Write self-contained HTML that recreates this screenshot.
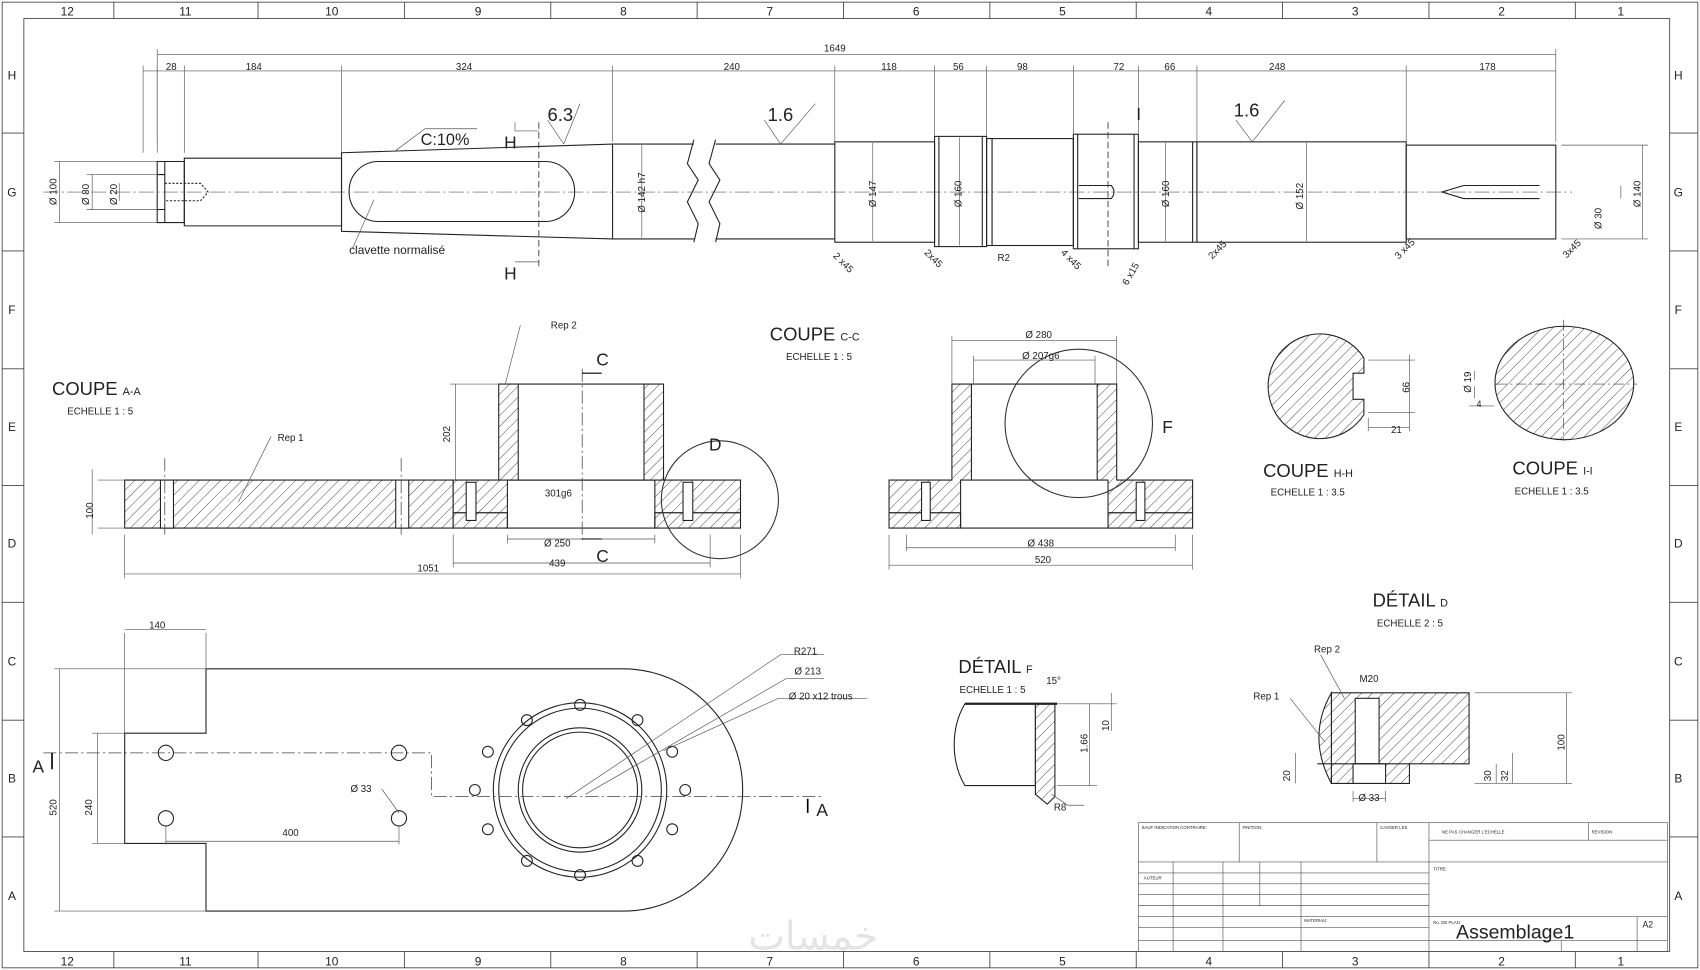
<!DOCTYPE html>
<html><head><meta charset="utf-8"><style>
html,body{margin:0;padding:0;background:#fff}
svg{display:block}
text{font-family:"Liberation Sans",sans-serif;fill:#222}
</style></head><body>
<svg width="1700" height="970" viewBox="0 0 1568 889" preserveAspectRatio="none" xmlns="http://www.w3.org/2000/svg">
<defs>
<pattern id="h" width="7" height="7" patternUnits="userSpaceOnUse" patternTransform="rotate(45)">
<rect width="7" height="7" fill="#fff"/><line x1="0" y1="0" x2="0" y2="7" stroke="#333" stroke-width="0.8"/></pattern>
</defs>
<rect width="1568" height="889" fill="#fff"/>
<g fill="none" stroke="#444" stroke-width="0.8">
<rect x="2" y="2" width="1564" height="885"/>
<rect x="22" y="17" width="1518" height="855"/>
<path d="M105 2V17M238 2V17M373 2V17M508 2V17M643 2V17M778 2V17M913 2V17M1048 2V17M1183 2V17M1318 2V17M1453 2V17
M105 872V887M238 872V887M373 872V887M508 872V887M643 872V887M778 872V887M913 872V887M1048 872V887M1183 872V887M1318 872V887M1453 872V887
M2 122H22M2 230H22M2 338H22M2 445H22M2 552H22M2 660H22M2 767H22
M1540 122H1566M1540 230H1566M1540 338H1566M1540 445H1566M1540 552H1566M1540 660H1566M1540 767H1566"/>
</g>
<g font-size="11" text-anchor="middle">
<text x="62" y="14">12</text><text x="171" y="14">11</text><text x="306" y="14">10</text><text x="441" y="14">9</text><text x="575" y="14">8</text><text x="710" y="14">7</text><text x="845" y="14">6</text><text x="980" y="14">5</text><text x="1115" y="14">4</text><text x="1250" y="14">3</text><text x="1385" y="14">2</text><text x="1495" y="14">1</text>
<text x="62" y="885">12</text><text x="171" y="885">11</text><text x="306" y="885">10</text><text x="441" y="885">9</text><text x="575" y="885">8</text><text x="710" y="885">7</text><text x="845" y="885">6</text><text x="980" y="885">5</text><text x="1115" y="885">4</text><text x="1250" y="885">3</text><text x="1385" y="885">2</text><text x="1495" y="885">1</text>
<text x="11" y="73">H</text><text x="11" y="180">G</text><text x="11" y="288">F</text><text x="11" y="395">E</text><text x="11" y="502">D</text><text x="11" y="610">C</text><text x="11" y="717">B</text><text x="11" y="825">A</text>
<text x="1548" y="73">H</text><text x="1548" y="180">G</text><text x="1548" y="288">F</text><text x="1548" y="395">E</text><text x="1548" y="502">D</text><text x="1548" y="610">C</text><text x="1548" y="717">B</text><text x="1548" y="825">A</text>
</g>

<!-- SHAFT -->
<g fill="none" stroke="#222" stroke-width="1">
<path d="M145 148H170V204H145Z M152 148V204 M145 160H152M145 192H152"/>
<path d="M152 168H185L192 176L185 184H152" stroke-dasharray="2 1.5"/>
<path d="M170 145H315V207H170Z"/>
<path d="M315 140L565 132V219L315 212Z"/>
<rect x="322" y="148" width="208" height="55" rx="27"/>
<path d="M565 132H640M565 219H640M660 132H770M660 219H770"/>
<path d="M640 128L634 150L644 165L634 185L644 205L640 222M660 128L654 150L664 165L654 185L664 205L660 222"/>
<rect x="770" y="130" width="92" height="92"/>
<rect x="862" y="125" width="48" height="101"/>
<path d="M866 125V226M906 125V226"/>
<path d="M910 127H915V225H910Z"/>
<rect x="915" y="127" width="75" height="98"/>
<rect x="990" y="123" width="60" height="105"/>
<path d="M994 123V228M1046 123V228"/>
<path d="M995 170H1025Q1030 176 1025 182H995"/>
<rect x="1050" y="130" width="54" height="92"/>
<path d="M1100 130V222"/>
<rect x="1104" y="130" width="193" height="92"/>
<rect x="1297" y="133" width="138" height="86"/>
<path d="M1350 170H1420M1350 182H1420M1350 170L1330 176L1350 182" />
</g>
<path d="M40 176H1450" stroke="#555" stroke-width="0.6" stroke-dasharray="14 3 2 3"/>
<path d="M497 112V245" stroke="#333" stroke-dasharray="6 3" stroke-width="0.8"/>
<path d="M1022 112V245" stroke="#333" stroke-dasharray="6 3" stroke-width="0.8"/>
<g stroke="#555" stroke-width="0.6" fill="none">
<path d="M145 50H1435M145 45V130M1435 45V130"/>
<path d="M132 65H1435M132 60V140M145 60V140M170 60V140M315 60V140M565 60V130M770 60V130M862 60V125M910 60V125M990 60V123M1050 60V123M1104 60V130M1297 60V130"/>
<path d="M55 148V204M50 148H145M50 204H145M85 160V192M80 160H145M80 192H145M110 168V184M1515 133V219M1440 133H1520M1440 219H1520M1495 170V182"/>
<path d="M592 133V218M805 131V221M885 126V225M1075 131V221M1205 131V221"/>
<path d="M365 138L392 118H440M520 132L535 95M505 110L520 132M720 132L752 95M705 110L720 132M1155 130L1185 92M1140 110L1155 130"/>
<path d="M345 183L325 228M475 112V120H497M475 240H497"/>
</g>
<g font-size="9" text-anchor="middle" fill="#333">
<text x="770" y="47">1649</text><text x="158" y="64">28</text><text x="234" y="64">184</text><text x="428" y="64">324</text><text x="675" y="64">240</text><text x="820" y="64">118</text><text x="884" y="64">56</text><text x="943" y="64">98</text><text x="1032" y="64">72</text><text x="1079" y="64">66</text><text x="1178" y="64">248</text><text x="1372" y="64">178</text>
</g>
<g font-size="9" fill="#333">
<text transform="translate(52,188) rotate(-90)">Ø 100</text>
<text transform="translate(82,188) rotate(-90)">Ø 80</text>
<text transform="translate(108,188) rotate(-90)">Ø 20</text>
<text transform="translate(595,195) rotate(-90)">Ø 142 h7</text>
<text transform="translate(808,190) rotate(-90)">Ø 147</text>
<text transform="translate(887,190) rotate(-90)">Ø 160</text>
<text transform="translate(1078,190) rotate(-90)">Ø 160</text>
<text transform="translate(1202,192) rotate(-90)">Ø 152</text>
<text transform="translate(1513,190) rotate(-90)">Ø 140</text>
<text transform="translate(1477,210) rotate(-90)">Ø 30</text>
<text x="920" y="239">R2</text>
<text transform="translate(768,235) rotate(45)">2 x45</text>
<text transform="translate(852,232) rotate(45)">2x45</text>
<text transform="translate(978,232) rotate(45)">4 x45</text>
<text transform="translate(1040,262) rotate(-60)">6 x15</text>
<text transform="translate(1118,238) rotate(-45)">2x45</text>
<text transform="translate(1290,238) rotate(-45)">3 x45</text>
<text transform="translate(1445,237) rotate(-45)">3x45</text>
</g>
<g font-size="17" fill="#222">
<text x="505" y="111">6.3</text><text x="708" y="111">1.6</text><text x="1138" y="107">1.6</text>
<text x="388" y="133" font-size="15">C:10%</text>
<text x="465" y="136" font-size="16">H</text><text x="465" y="256" font-size="16">H</text>
<text x="1048" y="110" font-size="16">I</text>
<text x="322" y="233" font-size="11">clavette normalisé</text>
</g>

<!-- COUPE A-A -->
<g font-size="17"><text x="48" y="362">COUPE <tspan font-size="10">A-A</tspan></text></g>
<text x="62" y="380" font-size="9">ECHELLE 1 : 5</text>
<g stroke="#222" stroke-width="1">
<path d="M115 440H418V484H115Z" fill="url(#h)"/>
<rect x="148" y="440" width="12" height="44" fill="#fff"/><rect x="365" y="440" width="12" height="44" fill="#fff"/>
<path d="M418 440H460V352H478V440H468V470H418Z" fill="url(#h)"/>
<path d="M612 440V352H594V440H604V470H683V440Z" fill="url(#h)"/>
<path d="M460 440H612" fill="none"/>
<path d="M418 470H468V484H418ZM604 470H683V484H604Z" fill="url(#h)"/>
<path d="M468 470V484H604V470M478 440H594M478 352H594" fill="none"/>
<rect x="430" y="442" width="9" height="35" fill="#fff"/><rect x="630" y="442" width="9" height="35" fill="#fff"/>
</g>
<path d="M537 338V495M152 420V490M370 420V490" stroke="#444" stroke-width="0.7" stroke-dasharray="12 3 2 3"/>
<circle cx="664" cy="458" r="54" fill="none" stroke="#333"/>
<g stroke="#555" stroke-width="0.6" fill="none">
<path d="M90 440H115M90 484H115M85 430V490M415 352H460M420 352V440M115 490V530M683 490V530M115 526H683M418 490V520M655 490V520M418 516H655M468 490V498M604 490V498M468 494H604M480 298L466 352M250 400L220 460"/>
</g>
<g font-size="9" fill="#333" text-anchor="middle">
<text x="395" y="524">1051</text><text x="514" y="519">439</text><text x="514" y="501">Ø 250</text><text x="515" y="455">301g6</text>
<text transform="translate(86,468) rotate(-90)">100</text><text transform="translate(415,398) rotate(-90)">202</text>
<text x="520" y="301">Rep 2</text><text x="268" y="404">Rep 1</text>
</g>
<g font-size="16"><text x="550" y="335">C</text><text x="550" y="515">C</text><text x="654" y="413">D</text></g>
<path d="M537 342H555M537 494H555" stroke="#000"/>

<!-- COUPE C-C -->
<text x="710" y="312" font-size="17">COUPE <tspan font-size="10">C-C</tspan></text>
<text x="725" y="330" font-size="9">ECHELLE 1 : 5</text>
<g stroke="#222" stroke-width="1">
<path d="M820 440H878V352H896V440H886V470H820Z" fill="url(#h)"/>
<path d="M1100 440H1030V352H1012V440H1022V470H1100Z" fill="url(#h)"/>
<path d="M820 470H886V484H820ZM1022 470H1100V484H1022Z" fill="url(#h)"/>
<path d="M886 470V484H1022V470M896 440H1012M896 352H1012" fill="none"/>
<rect x="850" y="442" width="8" height="35" fill="#fff"/><rect x="1048" y="442" width="8" height="35" fill="#fff"/>
</g>
<circle cx="995" cy="388" r="68" fill="none" stroke="#333"/>
<g stroke="#555" stroke-width="0.6" fill="none">
<path d="M878 312H1030M878 308V352M1030 308V352M898 330H1010M898 326V352M1010 326V352M836 490V505M1084 490V505M836 502H1084M820 490V522M1100 490V522M820 518H1100"/>
</g>
<g font-size="9" fill="#333" text-anchor="middle"><text x="958" y="310">Ø 280</text><text x="960" y="329">Ø 207g6</text><text x="960" y="501">Ø 438</text><text x="962" y="516">520</text></g>
<text x="1072" y="397" font-size="16">F</text>

<!-- COUPE H-H & I -->
<path d="M1258 328A48 48 0 1 0 1258 380V366H1248V342H1258Z" fill="url(#h)" stroke="#222"/>
<g stroke="#555" stroke-width="0.6" fill="none"><path d="M1262 330H1305M1262 378H1305M1300 325V383M1262 383V395M1300 383V395M1262 392H1300"/></g>
<text transform="translate(1300,360) rotate(-90)" font-size="9">66</text><text x="1283" y="397" font-size="9">21</text>
<text x="1165" y="437" font-size="17">COUPE <tspan font-size="10">H-H</tspan></text><text x="1172" y="454" font-size="9">ECHELLE 1 : 3.5</text>
<path d="M1379 348A64 52 0 1 1 1379 354Z" fill="url(#h)" stroke="#222"/>
<path d="M1380 352H1510M1442 293V404" stroke="#444" stroke-width="0.6" stroke-dasharray="10 3 2 3"/>
<g stroke="#555" stroke-width="0.6"><path d="M1360 340V348M1360 354V365M1355 372H1378"/></g>
<text transform="translate(1357,360) rotate(-90)" font-size="9">Ø 19</text><text x="1362" y="373" font-size="8">4</text>
<text x="1395" y="435" font-size="17">COUPE <tspan font-size="10">I-I</tspan></text><text x="1397" y="453" font-size="9">ECHELLE 1 : 3.5</text>

<!-- Bottom plate -->
<path d="M190 613H575A110 111 0 0 1 575 835H190V773H115V672H190Z" fill="none" stroke="#222" stroke-width="1"/>
<g fill="none" stroke="#222">
<circle cx="535" cy="724" r="80"/><circle cx="535" cy="724" r="75"/><circle cx="535" cy="724" r="57"/><circle cx="535" cy="724" r="53"/>
<circle cx="153" cy="690" r="7"/><circle cx="153" cy="750" r="7"/><circle cx="368" cy="690" r="7"/><circle cx="368" cy="750" r="7"/>
<circle cx="632" cy="724" r="5"/><circle cx="620" cy="689" r="5"/><circle cx="588" cy="660" r="5"/><circle cx="535" cy="646" r="5"/><circle cx="486" cy="660" r="5"/><circle cx="450" cy="689" r="5"/><circle cx="438" cy="724" r="5"/><circle cx="450" cy="760" r="5"/><circle cx="486" cy="789" r="5"/><circle cx="535" cy="802" r="5"/><circle cx="588" cy="789" r="5"/><circle cx="620" cy="760" r="5"/>
</g>
<path d="M40 690H398V730H760" fill="none" stroke="#444" stroke-width="0.7" stroke-dasharray="12 3 2 3"/>
<g stroke="#555" stroke-width="0.6" fill="none">
<path d="M115 580V672M190 580V613M115 577H190M50 613H190M50 835H190M55 613V835M85 672H115M85 773H115M90 672V773M153 757V774M368 757V774M153 771H368M352 723L368 745M522 732L720 600H760M540 728L725 622H760M612 688L718 640H800"/>
</g>
<g font-size="9" fill="#333" text-anchor="middle"><text x="145" y="576">140</text><text x="268" y="766">400</text><text x="333" y="726">Ø 33</text>
<text transform="translate(52,740) rotate(-90)">520</text><text transform="translate(85,740) rotate(-90)">240</text>
<text x="743" y="600">R271</text><text x="745" y="618">Ø 213</text><text x="757" y="641">Ø 20 x12 trous</text></g>
<text x="30" y="708" font-size="16">A</text><text x="753" y="748" font-size="16">A</text>
<path d="M48 705V690M745 745V732" stroke="#000" stroke-width="1.5"/>

<!-- DETAIL F -->
<text x="884" y="617" font-size="17">DÉTAIL <tspan font-size="10">F</tspan></text><text x="885" y="635" font-size="9">ECHELLE 1 : 5</text>
<path d="M890 645H955V720H890A45 60 0 0 1 890 645Z" fill="none" stroke="#222"/>
<path d="M955 645H973V730L966 737L955 728Z" fill="url(#h)" stroke="#222"/>
<path d="M890 645H975" stroke="#222" stroke-width="2"/>
<g stroke="#555" stroke-width="0.6" fill="none"><path d="M975 645H1030M975 720H1012M1025 635V670M1005 645V720M970 728L985 738H1000"/></g>
<text transform="translate(1023,670) rotate(-90)" font-size="9">10</text><text transform="translate(1003,690) rotate(-90)" font-size="9">1.66</text>
<text x="965" y="627" font-size="9">15°</text><text x="972" y="743" font-size="9">R8</text>

<!-- DETAIL D -->
<text x="1266" y="556" font-size="17">DÉTAIL <tspan font-size="10">D</tspan></text><text x="1270" y="574" font-size="9">ECHELLE 2 : 5</text>
<path d="M1228 635H1355V700H1300V718H1228Z" fill="url(#h)" stroke="#222"/>
<path d="M1228 635Q1205 675 1228 718Z" fill="url(#h)" stroke="#222"/>
<rect x="1250" y="640" width="22" height="60" fill="#fff" stroke="#222"/>
<rect x="1248" y="700" width="30" height="18" fill="#fff" stroke="#222"/>
<path d="M1215 700H1300" stroke="#222" fill="none"/>
<g stroke="#555" stroke-width="0.6" fill="none"><path d="M1360 635H1450M1360 718H1450M1445 635V718M1195 690V718M1380 700V718M1395 690V718M1248 725V735M1278 725V735M1248 732H1278M1218 600L1240 640M1190 640L1222 680"/></g>
<g font-size="9" fill="#333"><text x="1212" y="598">Rep 2</text><text x="1156" y="641">Rep 1</text><text x="1254" y="625">M20</text><text x="1253" y="734">Ø 33</text>
<text transform="translate(1443,688) rotate(-90)">100</text><text transform="translate(1190,716) rotate(-90)">20</text><text transform="translate(1375,716) rotate(-90)">30</text><text transform="translate(1391,716) rotate(-90)">32</text></g>

<!-- TITLE BLOCK -->
<g fill="none" stroke="#555" stroke-width="0.6">
<rect x="1050" y="754" width="488" height="118"/>
<path d="M1143 754V790M1270 754V790M1318 754V872M1050 790H1538M1318 770H1538M1465 754V770M1050 800H1318M1050 810H1318M1050 820H1318M1050 830H1318M1050 840H1318M1050 850H1318M1050 862H1318M1082 790V872M1128 790V872M1162 790V830M1200 790V872M1318 840H1538M1510 840V872M1318 862H1538M1440 862V872"/>
</g>
<g font-size="4" fill="#555"><text x="1053" y="760">SAUF INDICATION CONTRAIRE:</text><text x="1146" y="760">FINITION:</text><text x="1273" y="760">CASSER LES</text><text x="1330" y="764">NE PAS CHANGER L'ECHELLE</text><text x="1468" y="764">REVISION</text><text x="1322" y="798">TITRE:</text><text x="1055" y="806">AUTEUR</text><text x="1203" y="845">MATERIAU:</text><text x="1322" y="847">No. DE PLAN</text></g>
<text x="1343" y="860" font-size="18">Assemblage1</text><text x="1515" y="850" font-size="8">A2</text>
<text x="690" y="870" font-size="36" style="fill:#e4e4e4" font-family="'Liberation Sans','Noto Sans CJK SC',sans-serif">خمسات</text>
</svg>
</body></html>
